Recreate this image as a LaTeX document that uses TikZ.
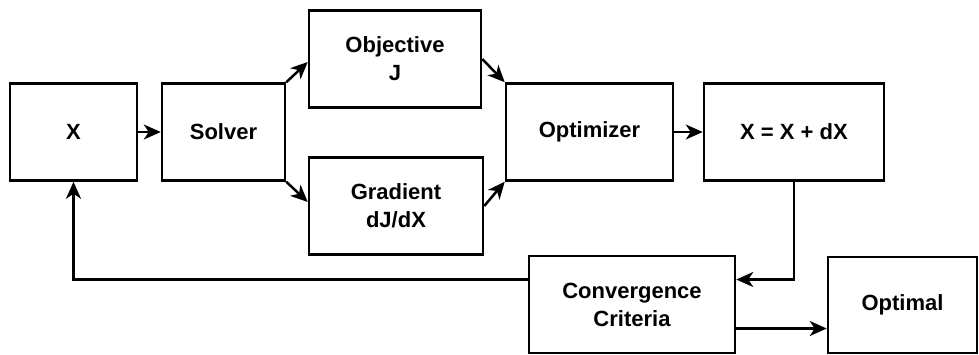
\documentclass[tikz,border=0pt]{standalone}
\usepackage{fontspec}
\setmainfont{Liberation Sans}
\usetikzlibrary{arrows.meta}
\begin{document}
\begin{tikzpicture}[x=1pt,y=-1pt,
    box/.style={draw, line width=2.5pt, minimum height=97pt, align=center,
      font=\fontsize{22}{28}\selectfont\bfseries},
    arr/.style={line width=2.5pt, -{Stealth[length=17pt,width=15pt,inset=5pt]}}]
      \useasboundingbox (0,0) rectangle (979,354);

      \node[box, minimum width=127pt] (x) at (73.5,132) {X};
      \node[box, minimum width=123pt] (solver) at (223.5,132) {Solver};
      \node[box, minimum width=172pt] (obj) at (395,59) {Objective\\J};
      \node[box, minimum width=174pt] (grad) at (396,206) {Gradient\\dJ/dX};
      \node[box, minimum width=167pt] (opt) at (589.5,132) {Optimizer};
      \node[box, minimum width=180pt] (upd) at (794,132) {X = X + dX};
      \node[box, minimum width=206pt] (conv) at (632,304.5) {Convergence\\Criteria};
      \node[box, minimum width=149pt, minimum height=96pt] (optimal) at (902.5,305) {Optimal};

      \coordinate (back) at ([yshift=25pt]conv.east);
      \coordinate (back2) at ([yshift=25pt]conv.west);
      \coordinate (done) at ([yshift=-24pt]conv.east);

      \draw[arr] (x) -- (solver);
      \draw[arr] (solver.north east) -- ([yshift=-3pt]obj.west);
      \draw[arr] (solver.south east) -- ([yshift=4pt]grad.west);
      \draw[arr] (obj.east) -- (opt.north west);
      \draw[arr] (grad.east) -- (opt.south west);
      \draw[arr] (opt) -- (upd);
      \draw[arr] (upd.south) |- (back);
      \draw[arr] (back2) -| (x.south);
      \draw[arr] (done) -- (done -| optimal.west);
\end{tikzpicture}
\end{document}
